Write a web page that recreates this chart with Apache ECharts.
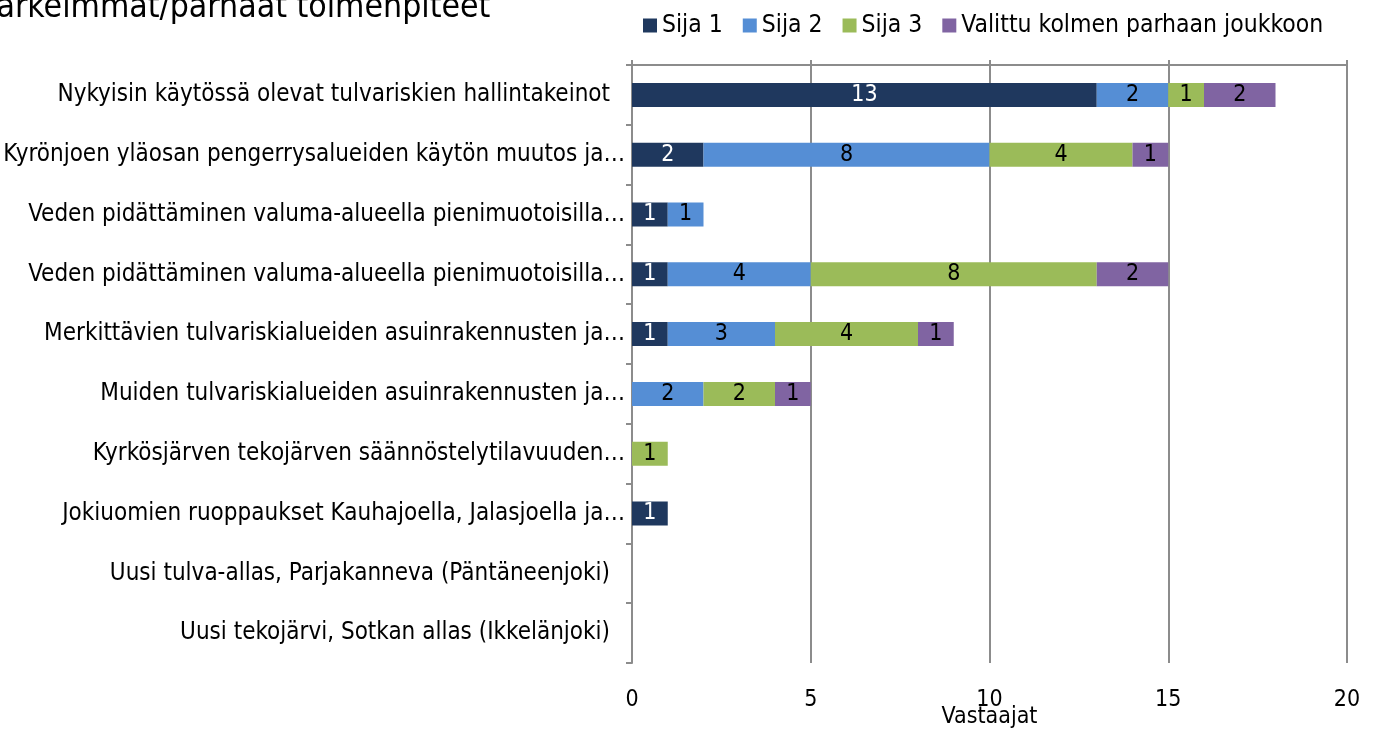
<!DOCTYPE html>
<html>
<head>
<meta charset="utf-8">
<script src="https://cdn.jsdelivr.net/npm/echarts@6/dist/echarts.min.js"></script>
<style>
  html, body { margin: 0; padding: 0; background: #fff; }
  #chart { width: 1375px; height: 733px; }
</style>
</head>
<body>
<div id="chart"></div>
<script>
// toimenpiteet (ylhäältä alas)
const categories = [
  'Nykyisin käytössä olevat tulvariskien hallintakeinot',
  'Kyrönjoen yläosan pengerrysalueiden käytön muutos ja…',
  'Veden pidättäminen valuma-alueella pienimuotoisilla…',
  'Veden pidättäminen valuma-alueella pienimuotoisilla…',
  'Merkittävien tulvariskialueiden asuinrakennusten ja…',
  'Muiden tulvariskialueiden asuinrakennusten ja…',
  'Kyrkösjärven tekojärven säännöstelytilavuuden…',
  'Jokiuomien ruoppaukset Kauhajoella, Jalasjoella ja…',
  'Uusi tulva-allas, Parjakanneva (Päntäneenjoki)',
  'Uusi tekojärvi, Sotkan allas (Ikkelänjoki)'
];
const sija1 = [13, 2, 1, 1, 1, 0, 0, 1, 0, 0];
const sija2 = [2, 8, 1, 4, 3, 2, 0, 0, 0, 0];
const sija3 = [1, 4, 0, 8, 4, 2, 1, 0, 0, 0];
const valittu = [2, 1, 0, 2, 1, 1, 0, 0, 0, 0];
const seriesNames = ['Sija 1', 'Sija 2', 'Sija 3', 'Valittu kolmen parhaan joukkoon'];
const colors = ['#1F385E', '#558ED5', '#9BBB59', '#8064A2'];

const FONT = '"Liberation Sans Narrow", "DejaVu Sans Condensed", sans-serif';
const GRIDC = '#8C8C8C';

const chart = echarts.init(document.getElementById('chart'));

function barSeries(name, data, i) {
  return {
    name: name,
    type: 'bar',
    stack: 'total',
    barWidth: 24,
    data: data,
    itemStyle: { color: colors[i] },
    label: {
      show: true,
      position: 'inside',
      fontFamily: FONT,
      fontSize: 23,
      color: i === 0 ? '#fff' : '#000',
      formatter: p => (p.value ? p.value : '')
    }
  };
}

chart.setOption({
  animation: false,
  title: {
    text: 'Tärkeimmät/parhaat toimenpiteet',
    left: -23,
    top: -14,
    textStyle: { fontFamily: FONT, fontSize: 33.5, fontWeight: 'normal', color: '#000' }
  },
  legend: {
    top: 8,
    left: 638,
    itemWidth: 14,
    itemHeight: 14,
    itemGap: 20,
    icon: 'rect',
    textStyle: { fontFamily: FONT, fontSize: 24.5, color: '#000' },
    data: seriesNames
  },
  grid: { left: 632, right: 28, top: 65, bottom: 70, outerBoundsMode: 'none', containLabel: false },
  xAxis: [
    {
      type: 'value',
      position: 'top',
      min: 0,
      max: 20,
      interval: 5,
      axisLine: { show: true, lineStyle: { color: GRIDC, width: 2 } },
      axisTick: { show: true, length: 5, lineStyle: { color: GRIDC, width: 2 } },
      axisLabel: { show: false },
      splitLine: { show: true, lineStyle: { color: GRIDC, width: 2 } }
    },
    {
      type: 'value',
      position: 'bottom',
      min: 0,
      max: 20,
      interval: 5,
      axisLine: { show: false },
      axisTick: { show: false },
      splitLine: { show: false },
      axisLabel: { margin: 26, fontFamily: FONT, fontSize: 23, color: '#000' },
      name: 'Vastaajat',
      nameLocation: 'middle',
      nameGap: 43,
      nameMoveOverlap: false,
      nameTextStyle: { fontFamily: FONT, fontSize: 23, color: '#000' }
    }
  ],
  yAxis: {
    type: 'category',
    inverse: true,
    data: categories,
    axisLine: { show: true, lineStyle: { color: GRIDC, width: 2 } },
    axisTick: { show: true, length: 6, lineStyle: { color: GRIDC, width: 2 } },
    axisLabel: {
      margin: 7,
      fontFamily: FONT,
      fontSize: 24,
      color: '#000',
      // täydet nimet päättyvät hieman ennen katkaistuja
      formatter: v => (v.endsWith('…') ? v : '{n|' + v + '}'),
      rich: { n: { fontFamily: FONT, fontSize: 24, color: '#000', padding: [0, 15, 0, 0] } }
    }
  },
  series: [
    barSeries(seriesNames[0], sija1, 0),
    barSeries(seriesNames[1], sija2, 1),
    barSeries(seriesNames[2], sija3, 2),
    barSeries(seriesNames[3], valittu, 3)
  ]
});
</script>
</body>
</html>
